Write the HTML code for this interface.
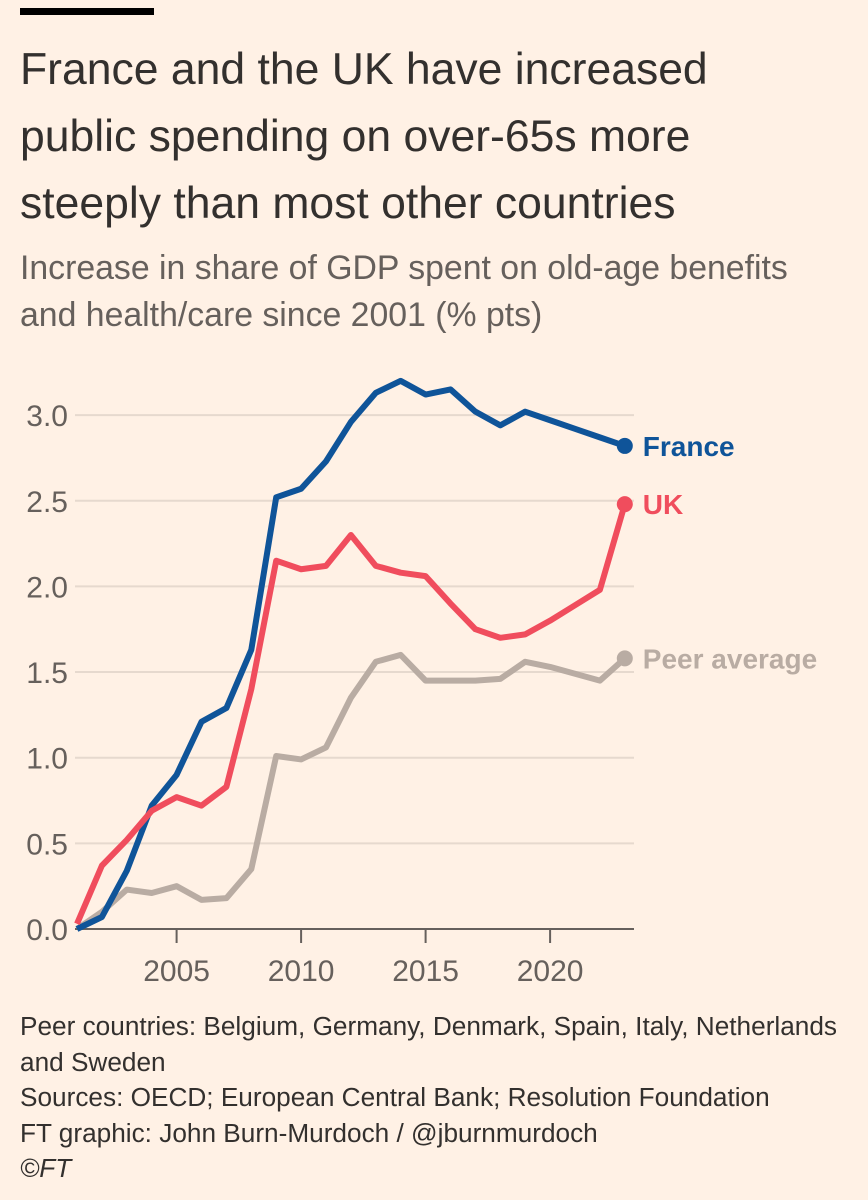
<!DOCTYPE html>
<html><head><meta charset="utf-8"><style>
body{margin:0;background:#fff1e5;width:868px;height:1200px;overflow:hidden;font-family:"Liberation Sans",sans-serif;color:#33302e}
.bar{position:absolute;left:20px;top:8px;width:134px;height:7px;background:#000}
h1{position:absolute;left:20px;top:36px;margin:0;font-weight:normal;font-size:44.5px;line-height:67px;width:848px;color:#33302e;white-space:nowrap}
.sub{position:absolute;left:20px;top:245px;font-size:33.8px;line-height:47px;color:#66605c;white-space:nowrap}
.foot{position:absolute;left:20px;top:1009px;font-size:26.2px;line-height:35.5px;color:#33302e;white-space:nowrap}
svg{position:absolute;left:0;top:0}
</style></head><body>
<div class="bar"></div>
<h1>France and the UK have increased<br>public spending on over-65s more<br>steeply than most other countries</h1>
<div class="sub">Increase in share of GDP spent on old-age benefits<br>and health/care since 2001 (% pts)</div>
<svg id="chart" width="868" height="1000"></svg>
<div class="foot">Peer countries: Belgium, Germany, Denmark, Spain, Italy, Netherlands<br>and Sweden<br>Sources: OECD; European Central Bank; Resolution Foundation<br>FT graphic: John Burn-Murdoch / @jburnmurdoch<br><i>©FT</i></div>
<script>
const years=[2001,2002,2003,2004,2005,2006,2007,2008,2009,2010,2011,2012,2013,2014,2015,2016,2017,2018,2019,2020,2021,2022,2023];
const france=[0,0.07,0.34,0.72,0.90,1.21,1.29,1.63,2.52,2.57,2.73,2.96,3.13,3.2,3.12,3.15,3.02,2.94,3.02,2.97,2.92,2.87,2.82];
const uk=[0.03,0.37,0.52,0.69,0.77,0.72,0.83,1.4,2.15,2.10,2.12,2.30,2.12,2.08,2.06,1.90,1.75,1.70,1.72,1.80,1.89,1.98,2.48];
const peer=[0,0.1,0.23,0.21,0.25,0.17,0.18,0.35,1.01,0.99,1.06,1.35,1.56,1.60,1.45,1.45,1.45,1.46,1.56,1.53,1.49,1.45,1.58];
const yTicks=[0,0.5,1.0,1.5,2.0,2.5,3.0];
const xTicks=[2005,2010,2015,2020];
const NS="http://www.w3.org/2000/svg";
const svg=document.getElementById('chart');
const X=y=>77+24.9*(y-2001);
const Y=v=>929-171.3*v;
function mk(t,a){const e=document.createElementNS(NS,t);for(const k in a)e.setAttribute(k,a[k]);svg.appendChild(e);return e;}
yTicks.forEach(v=>{
  if(v>0){const g=mk('line',{x1:75,x2:634,y1:Y(v),y2:Y(v),stroke:'#e6d9ce','stroke-width':2});
  
  }
  const t=mk('text',{x:68,y:Y(v)+11,'text-anchor':'end','font-size':30,fill:'#66605c','font-family':'Liberation Sans'});
  t.textContent=v.toFixed(1);
  
  
});
const ax=mk('line',{x1:75,x2:634,y1:Y(0),y2:Y(0),stroke:'#66605c','stroke-width':2});


xTicks.forEach(y=>{
  const tk=mk('line',{x1:X(y),x2:X(y),y1:Y(0),y2:Y(0)+14,stroke:'#66605c','stroke-width':2});
  
  
  const t=mk('text',{x:X(y),y:981,'text-anchor':'middle','font-size':30,fill:'#66605c','font-family':'Liberation Sans'});
  t.textContent=y;
  
  
});
function series(d,col,name,label,lc){
  const p=mk('polyline',{points:d.map((v,i)=>X(years[i])+','+Y(v)).join(' '),fill:'none',stroke:col,'stroke-width':6,'stroke-linejoin':'round'});
  
  
  const last=d[d.length-1],lx=X(years[years.length-1]);
  const c=mk('circle',{cx:lx,cy:Y(last),r:8,fill:col});
  
  
  const t=mk('text',{x:lx+18,y:Y(last)+10,'font-size':28,fill:lc,'font-weight':'bold','font-family':'Liberation Sans'});
  t.textContent=label;
  
  
}
series(peer,'#b9aca3','peer-average','Peer average','#b9aca3');
series(france,'#0f5499','france','France','#0f5499');
series(uk,'#f04d5d','uk','UK','#f04d5d');
</script>
</body></html>
